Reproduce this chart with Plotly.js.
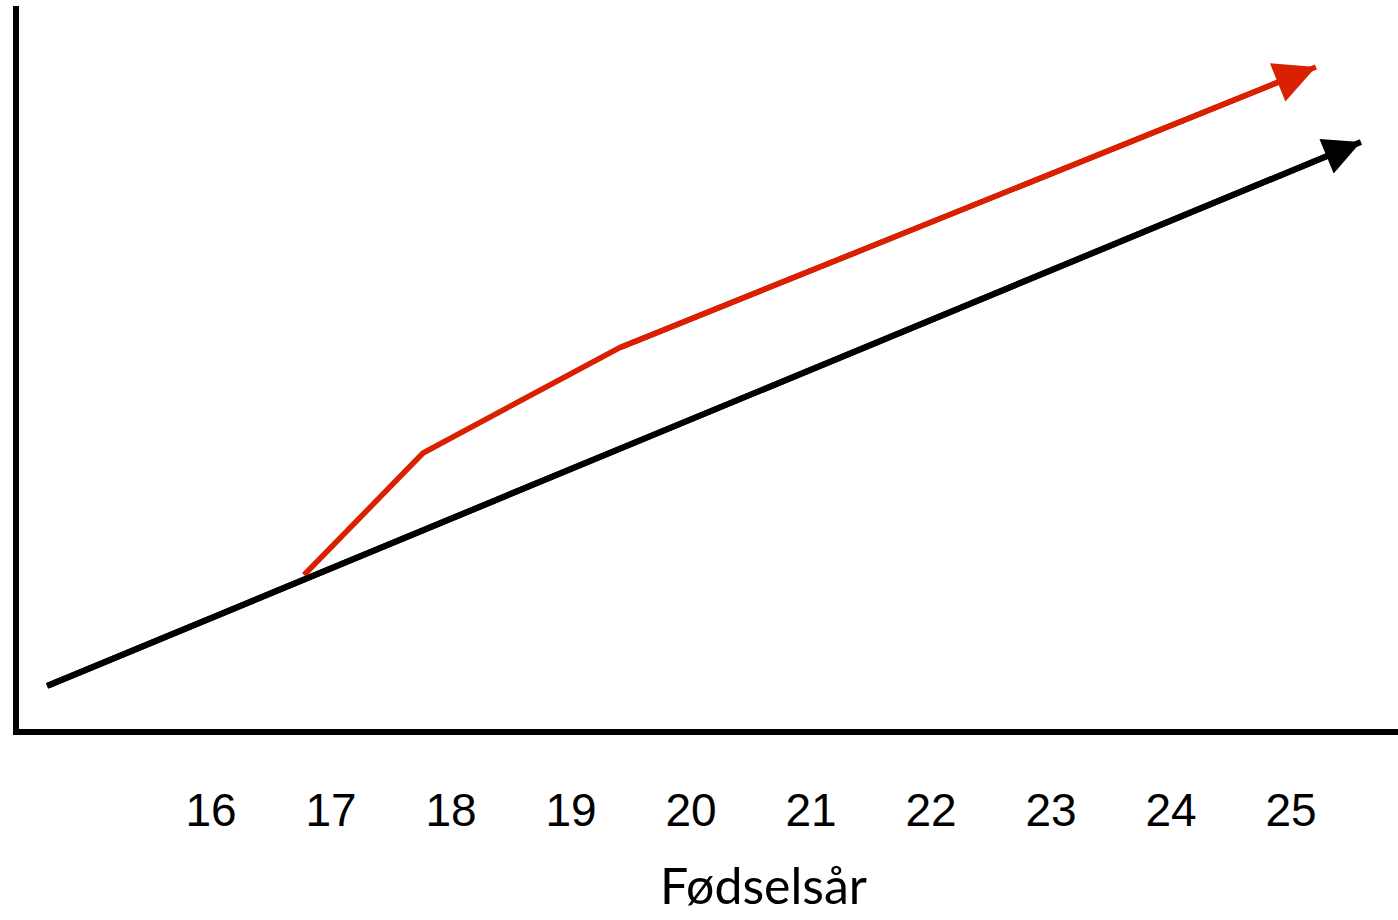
<!DOCTYPE html>
<html>
<head>
<meta charset="utf-8">
<script src="https://cdn.plot.ly/plotly-3.0.1.min.js"></script>
<style>html,body{margin:0;padding:0;background:#fff;}#chart{width:1398px;height:920px;}</style>
</head>
<body>
<div id="chart"></div>
<script>
// Data (x = birth year index, y = arbitrary level)
const yearTicks = [16, 17, 18, 19, 20, 21, 22, 23, 24, 25];
const tickLabels = ["16", "17", "18", "19", "20", "21", "22", "23", "24", "25"];
const blackX = [14.633, 25.583];
const blackY = [0.595, 8.119];
const redX = [16.775, 17.767, 19.40, 25.208];
const redY = [2.130, 3.817, 5.270, 9.156];
const xTitle = "Fødselsår";

const traces = [
  {x: blackX, y: blackY, type: 'scatter', mode: 'lines', line: {color: '#000000', width: 6}, hoverinfo: 'skip', showlegend: false},
  {x: redX, y: redY, type: 'scatter', mode: 'lines', line: {color: '#d92000', width: 5.5}, hoverinfo: 'skip', showlegend: false}
];

function arrowAnn(xs, ys, color, width, size) {
  const n = xs.length;
  return {
    x: xs[n-1], y: ys[n-1], ax: xs[n-2], ay: ys[n-2],
    xref: 'x', yref: 'y', axref: 'x', ayref: 'y',
    text: '', showarrow: true, arrowhead: 2, arrowsize: size,
    arrowwidth: width, arrowcolor: color, standoff: 0
  };
}

const layout = {
  width: 1398, height: 920,
  margin: {l: 19, r: 0, t: 6, b: 191, pad: 0},
  paper_bgcolor: '#ffffff', plot_bgcolor: '#ffffff',
  showlegend: false,
  xaxis: {
    range: [14.4, 25.892], tickvals: yearTicks, ticktext: tickLabels,
    showgrid: false, zeroline: false, showline: true, linecolor: '#000000', linewidth: 6,
    ticks: '', ticklabelstandoff: 36,
    tickfont: {family: 'Liberation Sans', size: 46, color: '#000000'},
    fixedrange: true
  },
  yaxis: {
    range: [0, 10], showticklabels: false, ticks: '',
    showgrid: false, zeroline: false, showline: true, linecolor: '#000000', linewidth: 6,
    fixedrange: true
  },
  annotations: [
    arrowAnn(blackX, blackY, '#000000', 6, 1.24),
    arrowAnn(redX, redY, '#d92000', 5.5, 1.5),
    {text: xTitle, xref: 'paper', yref: 'paper', x: (763 - 19) / 1379, y: (729 - 885) / 723,
     xanchor: 'center', yanchor: 'middle', showarrow: false,
     font: {family: 'Lato', size: 50, color: '#000000'}}
  ]
};

Plotly.newPlot('chart', traces, layout, {displayModeBar: false, staticPlot: true});
</script>
</body>
</html>
